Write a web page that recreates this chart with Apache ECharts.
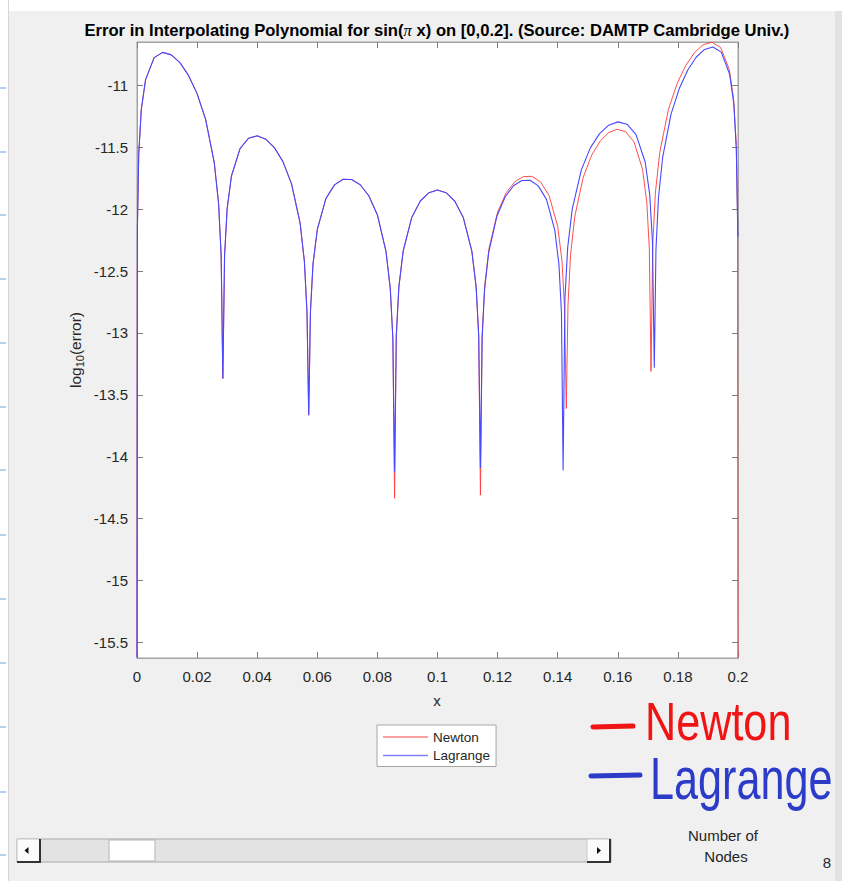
<!DOCTYPE html>
<html><head><meta charset="utf-8">
<script src="https://cdn.jsdelivr.net/npm/echarts@6/dist/echarts.min.js"></script>
<style>html,body{margin:0;padding:0;background:#f0f0f0}#c{width:842px;height:881px}</style>
</head><body><div id="c"></div><script>
// ---- data ----
const newtonX = [0,0.000143,0.000571,0.001429,0.002857,0.005714,0.008571,0.011429,0.014286,0.017143,0.02,0.022857,0.025714,0.027143,0.028,0.028571,
0.029143,0.03,0.031429,0.034286,0.037143,0.04,0.042857,0.045714,0.048571,0.051429,0.054286,0.055714,0.056571,0.057143,
0.057714,0.058571,0.06,0.062857,0.065714,0.068571,0.071429,0.074286,0.077143,0.08,0.082857,0.084286,0.085143,0.085714,
0.086286,0.087143,0.088571,0.091429,0.094286,0.097143,0.1,0.102857,0.105714,0.108571,0.111429,0.112857,0.113714,0.114286,
0.114857,0.115714,0.117143,0.12,0.122857,0.125714,0.128571,0.131429,0.134286,0.137143,0.14,0.141429,0.142286,0.142857,
0.143421,0.144267,0.145677,0.148497,0.151317,0.154137,0.156957,0.159777,0.162597,0.165417,0.168237,0.169647,0.170493,0.171057,
0.171636,0.172504,0.173951,0.176846,0.17974,0.182634,0.185529,0.188423,0.191317,0.194211,0.197106,0.198553,0.199421,0.199855,0.2];
const newtonY = [-15.62,-12.144,-11.559,-11.195,-10.954,-10.776,-10.734,-10.754,-10.817,-10.92,-11.067,-11.277,-11.625,-11.952,-12.369,-13.368,
-12.375,-11.996,-11.732,-11.511,-11.427,-11.408,-11.435,-11.503,-11.616,-11.796,-12.113,-12.425,-12.833,-13.664,
-12.83,-12.442,-12.164,-11.915,-11.804,-11.759,-11.761,-11.803,-11.892,-12.047,-12.341,-12.641,-13.042,-14.335,
-13.023,-12.628,-12.339,-12.067,-11.934,-11.867,-11.846,-11.867,-11.934,-12.067,-12.339,-12.628,-13.023,-14.31,
-13.018,-12.617,-12.317,-12.023,-11.868,-11.779,-11.737,-11.735,-11.78,-11.891,-12.14,-12.418,-12.806,-13.61,
-12.78,-12.372,-12.06,-11.743,-11.563,-11.45,-11.382,-11.355,-11.374,-11.458,-11.679,-11.943,-12.322,-13.31,
-12.287,-11.87,-11.543,-11.195,-10.985,-10.838,-10.735,-10.672,-10.652,-10.694,-10.872,-11.113,-11.477,-12.062,-15.62];
const lagrangeX = [0,0.000143,0.000571,0.001429,0.002857,0.005714,0.008571,0.011429,0.014286,0.017143,0.02,0.022857,0.025714,0.027143,0.028,0.028571,
0.029143,0.03,0.031429,0.034286,0.037143,0.04,0.042857,0.045714,0.048571,0.051429,0.054286,0.055714,0.056571,0.057143,
0.057714,0.058571,0.06,0.062857,0.065714,0.068571,0.071429,0.074286,0.077143,0.08,0.082857,0.084286,0.085143,0.085714,
0.086286,0.087143,0.088571,0.091429,0.094286,0.097143,0.1,0.102857,0.105714,0.108571,0.111429,0.112857,0.113714,0.114286,
0.114836,0.115661,0.117037,0.119789,0.12254,0.125291,0.128043,0.130794,0.133546,0.136297,0.139049,0.140424,0.14125,0.1418,
0.142407,0.143317,0.144834,0.147869,0.150903,0.153937,0.156971,0.160006,0.16304,0.166074,0.169109,0.170626,0.171536,0.172143,
0.1727,0.173536,0.174929,0.177714,0.1805,0.183286,0.186071,0.188857,0.191643,0.194429,0.197214,0.198607,0.199443,0.199861,0.2];
const lagrangeY = [-15.62,-12.144,-11.559,-11.195,-10.954,-10.776,-10.734,-10.754,-10.817,-10.92,-11.067,-11.277,-11.625,-11.952,-12.369,-13.368,
-12.375,-11.996,-11.732,-11.511,-11.427,-11.408,-11.435,-11.503,-11.616,-11.796,-12.113,-12.425,-12.833,-13.664,
-12.83,-12.442,-12.164,-11.915,-11.804,-11.759,-11.761,-11.803,-11.892,-12.047,-12.341,-12.641,-13.042,-14.12,
-13.023,-12.628,-12.339,-12.067,-11.934,-11.867,-11.846,-11.867,-11.934,-12.067,-12.339,-12.628,-13.023,-14.09,
-13.05,-12.649,-12.349,-12.055,-11.9,-11.811,-11.769,-11.767,-11.812,-11.923,-12.172,-12.45,-12.838,-14.11,
-12.72,-12.312,-12,-11.683,-11.503,-11.39,-11.322,-11.295,-11.314,-11.398,-11.619,-11.883,-12.262,-13.28,
-12.325,-11.908,-11.581,-11.233,-11.023,-10.876,-10.773,-10.71,-10.69,-10.732,-10.91,-11.151,-11.515,-12.1,-12.22];
const yTicks = [-15.5,-15,-14.5,-14,-13.5,-13,-12.5,-12,-11.5,-11];
const seriesNames = ['Newton','Lagrange'];
const titleText = '{b|Error in Interpolating Polynomial for sin(}{p|\u03c0}{b| x) on [0,0.2]. (Source: DAMTP Cambridge Univ.)}';

const FONT = '"Liberation Sans", Arial, Helvetica, sans-serif';
const BOX = '#a3a3a3';
const TICK = '#7d7d7d';
const LBL = '#262626';
const RED = '#ff3a3a';
const BLUE = '#4848ff';

const chart = echarts.init(document.getElementById('c'), null, {renderer:'svg', width:842, height:881});

function axisX(pos, labels){
  return {type:'value', min:0, max:0.2, interval:0.02, position:pos,
    axisLine:{show:true, onZero:false, lineStyle:{color:BOX, width:1}},
    axisTick:{show:true, inside:true, length:6, lineStyle:{color:TICK}},
    axisLabel:{show:labels, margin:11, fontSize:15, color:LBL, fontFamily:FONT,
      formatter: v => String(+v.toFixed(2))},
    splitLine:{show:false}};
}
function axisY(pos, labels){
  return {type:'value', min:-15.625, max:-10.65, position:pos,
    axisLine:{show:true, onZero:false, lineStyle:{color:BOX, width:1}},
    axisTick:{show:true, inside:true, length:6, customValues:yTicks, lineStyle:{color:TICK}},
    axisLabel:{show:labels, customValues:yTicks, margin:9, fontSize:15, color:LBL, fontFamily:FONT,
      formatter: v => String(v)},
    splitLine:{show:false}};
}

const marks = [88,152,215,279,343,407,470,535,599,663,727,792,855];
const graphic = [
  {type:'rect', shape:{x:0,y:0,width:842,height:11}, style:{fill:'#ffffff'}, silent:true},
  {type:'rect', shape:{x:0,y:0,width:8,height:881}, style:{fill:'#ffffff'}, silent:true},
  {type:'line', shape:{x1:8.5,y1:0,x2:8.5,y2:881}, style:{stroke:'#d6d6d6', lineWidth:1}, silent:true},
  {type:'rect', shape:{x:835,y:11,width:7,height:870}, style:{fill:'#e2e2e2'}, silent:true},
  ...marks.map(y => ({type:'line', shape:{x1:0,y1:y,x2:6,y2:y}, style:{stroke:'#6aa3dc', lineWidth:1}, silent:true})),
  {type:'text', x:437, y:30, style:{text:titleText, align:'center', verticalAlign:'middle',
    rich:{b:{fontSize:16.6, fontWeight:'bold', fontFamily:FONT, fill:'#000'},
          p:{fontSize:16.6, fontStyle:'italic', fontFamily:'"Liberation Serif", "DejaVu Serif", serif', fill:'#000'}}}},
  {type:'text', x:75, y:350, rotation:Math.PI/2, style:{text:'{a|log}{s|10}{a|(error)}', align:'center', verticalAlign:'middle',
    rich:{a:{fontSize:15.5, fontFamily:FONT, fill:LBL, lineHeight:20, verticalAlign:'middle'},
          s:{fontSize:11, fontFamily:FONT, fill:LBL, lineHeight:10, verticalAlign:'bottom'}}}},
  {type:'text', x:437, y:700, style:{text:'x', align:'center', verticalAlign:'middle', fontSize:15, fontFamily:FONT, fill:LBL}},
  // scrollbar
  {type:'rect', shape:{x:17,y:839,width:594,height:23}, style:{fill:'#e3e3e3', stroke:'#a9a9a9', lineWidth:1}, silent:true},
  {type:'rect', shape:{x:17,y:839,width:23,height:23}, style:{fill:'#fbfbfb', stroke:'#c8c8c8', lineWidth:1}, silent:true},
  {type:'polyline', shape:{points:[[17,862],[40,862],[40,839]]}, style:{stroke:'#333', lineWidth:2, fill:null}, silent:true},
  {type:'polygon', shape:{points:[[24.5,850.5],[28.5,847],[28.5,854]]}, style:{fill:'#111'}, silent:true},
  {type:'rect', shape:{x:109,y:840,width:46,height:21}, style:{fill:'#ffffff', stroke:'#b5b5b5', lineWidth:1}, silent:true},
  {type:'rect', shape:{x:587,y:839,width:23,height:23}, style:{fill:'#fbfbfb', stroke:'#c8c8c8', lineWidth:1}, silent:true},
  {type:'polyline', shape:{points:[[587,862],[610,862],[610,839]]}, style:{stroke:'#333', lineWidth:2, fill:null}, silent:true},
  {type:'polygon', shape:{points:[[601,850.5],[597,847],[597,854]]}, style:{fill:'#111'}, silent:true},
  {type:'text', x:723, y:835, style:{text:'Number of', align:'center', verticalAlign:'middle', fontSize:15, fontFamily:FONT, fill:LBL}},
  {type:'text', x:726, y:856, style:{text:'Nodes', align:'center', verticalAlign:'middle', fontSize:15, fontFamily:FONT, fill:LBL}},
  {type:'text', x:827, y:862, style:{text:'8', align:'center', verticalAlign:'middle', fontSize:15, fontFamily:FONT, fill:LBL}},
  // handwritten annotations
  {type:'line', shape:{x1:593,y1:727,x2:633,y2:726}, style:{stroke:'#f01414', lineWidth:5, lineCap:'round'}, silent:true},
  {type:'text', x:645, y:721, scaleX:0.8, style:{text:seriesNames[0], align:'left', verticalAlign:'middle', fontSize:54, fontFamily:FONT, fill:'#f01414'}},
  {type:'line', shape:{x1:591,y1:776,x2:640,y2:775}, style:{stroke:'#2c3cc8', lineWidth:5, lineCap:'round'}, silent:true},
  {type:'text', x:650, y:778, scaleX:0.72, style:{text:seriesNames[1], align:'left', verticalAlign:'middle', fontSize:60, fontFamily:FONT, fill:'#2c3cc8'}}
];

const option = {
  backgroundColor:'#f0f0f0',
  animation:false,
  textStyle:{fontFamily:FONT},
  grid:{left:137, right:104, top:42, bottom:223, show:true, backgroundColor:'#ffffff', borderColor:BOX, borderWidth:1},
  xAxis:[axisX('bottom', true), axisX('top', false)],
  yAxis:[axisY('left', true), axisY('right', false)],
  legend:{orient:'vertical', left:377, top:725, padding:[5,6,4,6], itemGap:4.5, itemWidth:45, itemHeight:1.5,
    icon:'rect', backgroundColor:'#ffffff', borderColor:'#a6a6a6', borderWidth:1, borderRadius:0,
    textStyle:{fontSize:13.5, color:LBL, fontFamily:FONT, lineHeight:14},
    data:[{name:seriesNames[0], itemStyle:{color:'#ff8080'}}, {name:seriesNames[1], itemStyle:{color:'#8080ff'}}]},
  series:[
    {name:seriesNames[0], type:'line', xAxisIndex:0, yAxisIndex:0, data:newtonX.map((x,i)=>[x,newtonY[i]]),
     symbol:'none', showSymbol:false, smooth:false, lineStyle:{color:RED, width:0.9}, itemStyle:{color:'#ff8080'}, z:2},
    {name:seriesNames[1], type:'line', xAxisIndex:0, yAxisIndex:0, data:lagrangeX.map((x,i)=>[x,lagrangeY[i]]),
     symbol:'none', showSymbol:false, smooth:false, lineStyle:{color:BLUE, width:1.1}, itemStyle:{color:'#8080ff'}, z:3}
  ],
  graphic:graphic
};
chart.setOption(option);
</script></body></html>
